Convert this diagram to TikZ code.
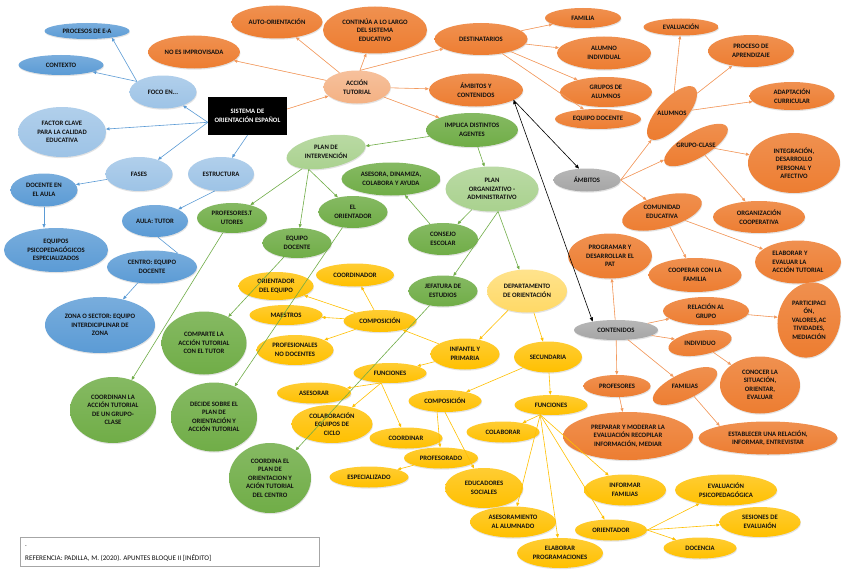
\documentclass[tikz,border=0pt]{standalone}
\usepackage{fontspec}
\setmainfont{Carlito}
\usetikzlibrary{shapes.geometric,arrows.meta,shadows}
\definecolor{blueD}{HTML}{5B9BD5}
\definecolor{blueL}{HTML}{9DC3E6}
\definecolor{orangeB}{HTML}{ED7D31}
\definecolor{orangeL}{HTML}{F4B183}
\definecolor{greenB}{HTML}{70AD47}
\definecolor{greenL}{HTML}{A9D18E}
\definecolor{yellowB}{HTML}{FFC000}
\definecolor{yellowL}{HTML}{FFD966}
\definecolor{grayB}{HTML}{A5A5A5}
\definecolor{txt}{HTML}{111111}
\definecolor{lineO}{HTML}{F39A5E}
\tikzset{
  base/.style={ellipse, inner sep=0pt, align=center, text=txt,
    font=\bfseries\fontsize{6.7}{8.5}\selectfont,
    drop shadow={opacity=0.22, shadow xshift=0.5pt, shadow yshift=-1.2pt}},
  nb/.style={base, top color=blueD!82!white, bottom color=blueD},
  nbl/.style={base, top color=blueL!80!white, bottom color=blueL},
  no/.style={base, top color=orangeB!85!white, bottom color=orangeB},
  nol/.style={base, top color=orangeL!80!white, bottom color=orangeL},
  ng/.style={base, top color=greenB!85!white, bottom color=greenB},
  ngl/.style={base, top color=greenL!80!white, bottom color=greenL},
  ny/.style={base, top color=yellowB!80!white, bottom color=yellowB},
  nyl/.style={base, top color=yellowL!75!white, bottom color=yellowL},
  ngr/.style={base, top color=grayB!80!white, bottom color=grayB},
  lbl/.style={inner sep=0pt, align=center, text=txt, font=\bfseries\fontsize{6.7}{8.5}\selectfont},
  sz/.style 2 args={minimum width=#1pt, minimum height=#2pt},
  tip/.style={-{Triangle[length=3.6pt,width=3pt]}},
  ab/.style={tip, draw=blueD, line width=0.6pt},
  lb/.style={draw=blueD, line width=0.6pt},
  ao/.style={tip, draw=lineO, fill=lineO, line width=0.6pt},
  ag/.style={tip, draw=greenB, line width=0.6pt},
  ay/.style={tip, draw=yellowB, line width=0.6pt},
  ak/.style={draw=black, line width=0.6pt},
}
\begin{document}
\begin{tikzpicture}[x=1pt,y=-1pt]
\fill[white] (0,0) rectangle (848,578);
\useasboundingbox (0,0) rectangle (848,578);

% ---------- blue ----------
\node[nb, sz={85}{16}] (procesos) at (87,31) {PROCESOS DE E-A};
\node[nb, sz={85}{20}] (contexto) at (61,65) {CONTEXTO};
\node[nbl, sz={67}{33}] (foco) at (163,92) {FOCO EN...};
\node[nbl, sz={88}{50}] (factor) at (62,132) {FACTOR CLAVE\\PARA LA CALIDAD\\EDUCATIVA};
\node[nbl, sz={67}{34}] (fases) at (139,174) {FASES};
\node[nbl, sz={66}{34}] (estructura) at (221,174) {ESTRUCTURA};
\node[nb, sz={67}{33}] (docaula) at (44,190) {DOCENTE EN\\EL AULA};
\node[nb, sz={104}{44}] (equipos) at (56,250) {EQUIPOS\\PSICOPEDAGÓGICOS\\ESPECIALIZADOS};
\node[nb, sz={66}{32}] (aula) at (155,221) {AULA: TUTOR};
\node[nb, sz={90}{33}] (centro) at (152,267) {CENTRO: EQUIPO\\DOCENTE};
\node[nb, sz={110}{56}] (zona) at (100,325) {ZONA O SECTOR: EQUIPO\\INTERDICIPLINAR DE\\ZONA};

% ---------- central box ----------
\node[rectangle, fill=black, text=white, minimum width=79pt, minimum height=38pt, inner sep=0pt, align=center,
  font=\bfseries\fontsize{6.7}{8.5}\selectfont] (sistema) at (247.5,116) {SISTEMA DE\\ORIENTACIÓN ESPAÑOL};

% ---------- orange ----------
\node[no, sz={92}{33}] (noimpro) at (194,52) {NO ES IMPROVISADA};
\node[no, sz={91}{33}] (auto) at (277,22) {AUTO-ORIENTACIÓN};
\node[no, sz={104}{47}] (continua) at (375,30) {CONTINÚA A LO LARGO\\DEL SISTEMA\\EDUCATIVO};
\node[nol, sz={67}{33}] (accion) at (357,87) {ACCIÓN\\TUTORIAL};
\node[no, sz={93}{32}] (destinatarios) at (481,39) {DESTINATARIOS};
\node[no, sz={94}{33}] (ayc) at (476,90) {ÁMBITOS Y\\CONTENIDOS};
\node[no, sz={76}{20}] (familia) at (583,18) {FAMILIA};
\node[no, sz={94}{33}] (alumnoind) at (604,53) {ALUMNO\\INDIVIDUAL};
\node[no, sz={92}{30}] (grupos) at (606,92) {GRUPOS DE\\ALUMNOS};
\node[no, sz={86}{20}] (eqdocO) at (598,119) {EQUIPO DOCENTE};
\node[no, sz={75}{17}] (evaluacion) at (681,27) {EVALUACIÓN};
\node[no, sz={86}{32}] (proceso) at (751,51) {PROCESO DE\\APRENDIZAJE};
\node[no, sz={85}{28}] (adaptacion) at (792,96) {ADAPTACIÓN\\CURRICULAR};
\node[no, sz={68}{28}, rotate=48] (alumnos) at (672,113) {};
\node[lbl] (alumnosT) at (alumnos.center) {ALUMNOS};
\node[no, sz={72}{26}, rotate=30] (grupoclase) at (696,145) {};
\node[lbl] (grupoclaseT) at (grupoclase.center) {GRUPO-CLASE};
\node[no, sz={92}{60}] (integracion) at (794,163) {INTEGRACIÓN,\\DESARROLLO\\PERSONAL Y\\AFECTIVO};
\node[ngr, sz={67}{23}] (ambitos) at (587,180) {ÁMBITOS};
\node[no, sz={82}{32}, rotate=15] (comunidad) at (662,212) {};
\node[lbl] (comunidadT) at (comunidad.center) {COMUNIDAD\\EDUCATIVA};
\node[no, sz={92}{32}] (organizacion) at (759,217) {ORGANIZACIÓN\\COOPERATIVA};
\node[no, sz={84}{45}] (programar) at (610,256) {PROGRAMAR Y\\DESARROLLAR EL\\PAT};
\node[no, sz={93}{34}] (cooperar) at (695,275) {COOPERAR CON LA\\FAMILIA};
\node[no, sz={86}{43}] (elaborarev) at (798,262) {};
\node[lbl, align=left] (elaborarevT) at (elaborarev.center) {ELABORAR Y\\EVALUAR LA\\ACCIÓN TUTORIAL};
\node[no, sz={86}{28}] (relacion) at (706,311) {RELACIÓN AL\\GRUPO};
\node[no, sz={62}{76}, rotate=-15] (participacion) at (809,320) {};
\node[lbl] (participacionT) at (participacion.center) {PARTICIPACI\\ÓN,\\VALORES,AC\\TIVIDADES,\\MEDIACIÓN};
\node[ngr, sz={84}{20}] (contenidos) at (616,330) {CONTENIDOS};
\node[no, sz={64}{24}, rotate=10] (individuo) at (700,343) {};
\node[lbl] (individuoT) at (individuo.center) {INDIVIDUO};
\node[no, sz={80}{57}] (conocer) at (760,385) {CONOCER LA\\SITUACIÓN,\\ORIENTAR,\\EVALUAR};
\node[no, sz={67}{22}] (profesoresO) at (617,386) {PROFESORES};
\node[no, sz={70}{26}, rotate=25] (familias) at (685,386) {};
\node[lbl] (familiasT) at (familias.center) {FAMILIAS};
\node[no, sz={130}{48}] (preparar) at (628,436) {PREPARAR Y MODERAR LA\\EVALUACIÓN RECOPILAR\\INFORMACIÓN, MEDIAR};
\node[no, sz={139}{33}] (establecer) at (768,438) {ESTABLECER UNA RELACIÓN,\\INFORMAR, ENTREVISTAR};

% ---------- green ----------
\node[ngl, sz={80}{32}, rotate=10] (planint) at (326,152) {};
\node[lbl] (planintT) at (planint.center) {PLAN DE\\INTERVENCIÓN};
\node[ng, sz={92}{34}] (implica) at (472,130) {IMPLICA DISTINTOS\\AGENTES};
\node[ng, sz={99}{33}] (asesora) at (391,179) {ASESORA, DINAMIZA,\\COLABORA Y AYUDA};
\node[ngl, sz={93}{45}] (planorg) at (492,189) {PLAN\\ORGANIZATIVO -\\ADMINISTRATIVO};
\node[ng, sz={70}{30}] (proftut) at (232,218) {PROFESORES.T\\UTORES};
\node[ng, sz={69}{30}] (eqdocG) at (297,243) {EQUIPO\\DOCENTE};
\node[ng, sz={69}{32}] (elorient) at (353,212) {EL\\ORIENTADOR};
\node[ng, sz={70}{32}] (consejo) at (443,239) {CONSEJO\\ESCOLAR};
\node[ng, sz={69}{31}] (jefatura) at (443,291) {JEFATURA DE\\ESTUDIOS};
\node[ng, sz={85}{63}] (comparte) at (204,343) {COMPARTE LA\\ACCIÓN TUTORIAL\\CON EL TUTOR};
\node[ng, sz={86}{66}] (coordinan) at (113,410) {COORDINAN LA\\ACCIÓN TUTORIAL\\DE UN GRUPO-\\CLASE};
\node[ng, sz={86}{69}] (decide) at (214,417) {DECIDE SOBRE EL\\PLAN DE\\ORIENTACIÓN Y\\ACCIÓN TUTORIAL};
\node[ng, sz={82}{70}] (coordina) at (270,478) {COORDINA EL\\PLAN DE\\ORIENTACION Y\\ACIÓN TUTORIAL\\DEL CENTRO};

% ---------- yellow ----------
\node[nyl, sz={80}{43}] (depto) at (527,291) {DEPARTAMENTO\\DE ORIENTACIÓN};
\node[ny, sz={78}{23}] (coordinador) at (355,275) {COORDINADOR};
\node[ny, sz={75}{28}] (orieq) at (276,286) {ORIENTADOR\\DEL EQUIPO};
\node[ny, sz={73}{20}] (maestros) at (286,315) {MAESTROS};
\node[ny, sz={73}{22}] (compA) at (380,321) {COMPOSICIÓN};
\node[ny, sz={77}{30}] (profnodoc) at (295,350) {PROFESIONALES\\NO DOCENTES};
\node[ny, sz={69}{31}] (infantil) at (465,354) {INFANTIL Y\\PRIMARIA};
\node[ny, sz={68}{31}] (secundaria) at (548,357) {SECUNDARIA};
\node[ny, sz={73}{20}] (funcA) at (390,373) {FUNCIONES};
\node[ny, sz={74}{21}] (asesorar) at (314,393) {ASESORAR};
\node[ny, sz={81}{38}] (colabciclo) at (332,424) {COLABORACIÓN\\EQUIPOS DE\\CICLO};
\node[ny, sz={73}{21}] (coordinar) at (406,438) {COORDINAR};
\node[ny, sz={73}{22}] (compB) at (445,401) {COMPOSICIÓN};
\node[ny, sz={74}{21}] (profesorado) at (441,458) {PROFESORADO};
\node[ny, sz={79}{21}] (especializado) at (369,477) {ESPECIALIZADO};
\node[ny, sz={78}{40}] (educadores) at (484,488) {EDUCADORES\\SOCIALES};
\node[ny, sz={73}{20}] (funcB) at (551,405) {FUNCIONES};
\node[ny, sz={73}{21}] (colaborar) at (503,432) {COLABORAR};
\node[ny, sz={86}{31}] (asesoramiento) at (513,522) {ASESORAMIENTO\\AL ALUMNADO};
\node[ny, sz={86}{30}] (elabprog) at (560,553) {ELABORAR\\PROGRAMACIONES};
\node[ny, sz={82}{31}] (informar) at (625,490) {INFORMAR\\FAMILIAS};
\node[ny, sz={102}{31}] (evalpsico) at (726,490) {EVALUACIÓN\\PSICOPEDAGÓGICA};
\node[ny, sz={81}{30}] (sesiones) at (760,522) {SESIONES DE\\EVALUAIÓN};
\node[ny, sz={72}{21}] (orientadorY) at (611,530) {ORIENTADOR};
\node[ny, sz={73}{21}] (docencia) at (700,548) {DOCENCIA};

% ---------- reference box ----------
\node[rectangle, draw=gray!70, line width=0.6pt, minimum width=299pt, minimum height=29pt, inner sep=0pt, anchor=north west] (refbox) at (20,537) {};
\node[anchor=west, inner sep=0pt, text=txt, font=\fontsize{7}{8}\selectfont] (refdot) at (25,546) {.};
\node[anchor=west, inner sep=0pt, text=txt, font=\fontsize{7.1}{8}\selectfont] (reftext) at (25,558) {REFERENCIA: PADILLA, M. (2020). APUNTES BLOQUE II [INÉDITO]};

% ---------- blue connectors ----------
\draw[ab] (sistema.189) -- (foco);
\draw[ab] (sistema.189) -- (factor);
\draw[ab] (sistema.189) -- (fases);
\draw[ab] (sistema.south) -- (estructura);
\draw[ab] (foco.158) -- (procesos.-15);
\draw[ab] (foco.158) -- (contexto);
\draw[ab] (fases) -- (docaula);
\draw[ab] (docaula.south) -- (docaula.south |- equipos.north);
\draw[ab] (estructura.250) -- (aula);
\draw[lb] (aula.-80) -- (centro.28);
\draw[ab] (centro) -- (zona);

% ---------- orange connectors ----------
\draw[ao] (sistema.10) -- (accion);
\draw[ao] (accion) -- (auto);
\draw[ao] (accion.80) -- (continua);
\draw[ao] (accion.80) -- (destinatarios);
\draw[ao] (accion) -- (noimpro);
\draw[ao] (accion) -- (ayc);
\draw[ao] (accion) -- (implica);
\draw[ao] (destinatarios) -- (familia);
\draw[ao] (destinatarios) -- (alumnoind);
\draw[ao] (destinatarios) -- (grupos);
\draw[ao] (destinatarios) -- (eqdocO);
\draw[ao] (ambitos.east) -- (alumnos);
\draw[ao] (ambitos.east) -- (grupoclase);
\draw[ao] (ambitos.east) -- (comunidad);
\draw[ao] (alumnos) -- (evaluacion);
\draw[ao] (alumnos) -- (proceso);
\draw[ao] (alumnos) -- (adaptacion);
\draw[ao] (grupoclase) -- (integracion);
\draw[ao] (grupoclase) -- (organizacion);
\draw[ao] (comunidad) -- (cooperar);
\draw[ao] (comunidad) -- (elaborarev);
\draw[ao] (contenidos) -- (programar);
\draw[ao] (contenidos) -- (relacion);
\draw[ao] (contenidos) -- (individuo);
\draw[ao] (contenidos) -- (profesoresO);
\draw[ao] (contenidos) -- (familias);
\draw[ao] (relacion) -- (participacion);
\draw[ao] (individuo) -- (conocer);
\draw[ao] (profesoresO) -- (preparar);
\draw[ao] (familias) -- (establecer.166);

% ---------- black connectors ----------
\draw[ak, -{Triangle[length=4pt,width=3.4pt]}] (ayc.-15) -- (ambitos.125);
\draw[ak, {Triangle[length=4pt,width=3.4pt]}-{Triangle[length=4pt,width=3.4pt]}] (ayc.-15) -- (contenidos.160);

% ---------- green connectors ----------
\draw[ag] (implica) -- (planint);
\draw[ag] (implica) -- (planorg);
\draw[ag] (planint) -- (proftut);
\draw[ag] (planint.215) -- (eqdocG.80);
\draw[ag] (planint.215) -- (elorient);
\draw[ag] (proftut) -- (coordinan);
\draw[ag] (eqdocG) -- (comparte);
\draw[ag] (elorient) -- (decide);
\draw[ag] (planorg) -- (consejo);
\draw[ag] (consejo) -- (asesora);
\draw[ag] (planorg.-75) -- (jefatura);
\draw[ag] (planorg.-75) -- (depto);
\draw[ag] (jefatura) -- (coordina);

% ---------- yellow connectors ----------
\draw[ay] (depto) -- (infantil);
\draw[ay] (depto) -- (secundaria);
\draw[ay] (infantil) -- (compA);
\draw[ay] (infantil) -- (funcA);
\draw[ay] (compA) -- (coordinador);
\draw[ay] (compA) -- (orieq);
\draw[ay] (compA) -- (maestros);
\draw[ay] (compA) -- (profnodoc);
\draw[ay] (funcA.228) -- (asesorar);
\draw[ay] (funcA.228) -- (colabciclo);
\draw[ay] (funcA.228) -- (coordinar);
\draw[ay] (secundaria) -- (compB);
\draw[ay] (secundaria) -- (funcB);
\draw[ay] (compB.234) -- (profesorado);
\draw[ay] (compB.-90) -- (educadores);
\draw[ay] (profesorado) -- (especializado);
\draw[ay] (funcB.222) -- (colaborar);
\draw[ay] (funcB.222) -- (asesoramiento);
\draw[ay] (funcB.222) -- (elabprog);
\draw[ay] (funcB.222) -- (informar);
\draw[ay] (funcB.222) -- (orientadorY);
\draw[ay] (orientadorY.east) -- (evalpsico);
\draw[ay] (orientadorY.east) -- (sesiones);
\draw[ay] (orientadorY.east) -- (docencia);
\end{tikzpicture}
\end{document}
